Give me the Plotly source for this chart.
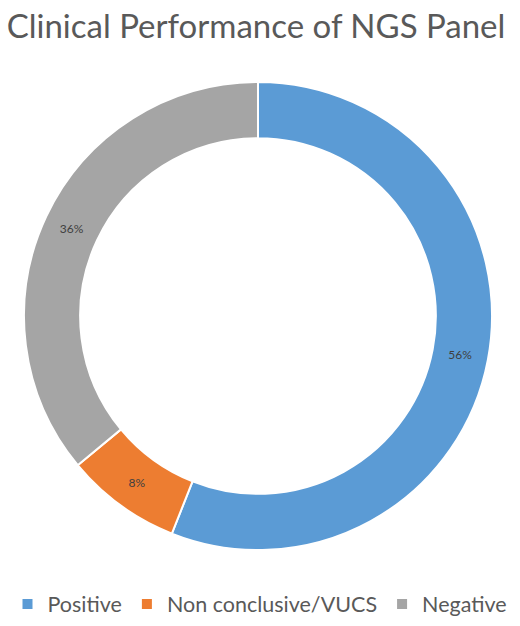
import plotly.graph_objects as go

categories = ["Positive", "Non conclusive/VUCS", "Negative"]
values = [56, 8, 36]
colors = ["#5B9BD5", "#ED7D31", "#A5A5A5"]

W, H = 520, 626

fig = go.Figure(go.Pie(
    labels=categories,
    values=values,
    hole=0.76,
    sort=False,
    direction="clockwise",
    rotation=0,
    domain=dict(x=[24 / W, 492 / W], y=[76 / H, 544 / H]),
    marker=dict(colors=colors, line=dict(color="white", width=2)),
    textinfo="percent",
    texttemplate="%{percent:.0%}",
    textposition="inside",
    insidetextorientation="horizontal",
    textfont=dict(family="Lato, Open Sans, sans-serif", size=12, color="#404040"),
    hoverinfo="label+percent",
))

fig.update_layout(
    width=W, height=H,
    paper_bgcolor="white",
    plot_bgcolor="white",
    margin=dict(l=0, r=0, t=0, b=0, autoexpand=False),
    title=dict(text="Clinical Performance of NGS Panel",
               x=256 / W, xanchor="center", xref="container",
               y=1 - 26 / H, yanchor="middle", yref="container",
               font=dict(family="Lato, Open Sans, sans-serif", size=33, color="#595959")),
    legend=dict(orientation="h", xref="paper", yref="container",
                x=0.5, xanchor="center", y=1 - 604 / H, yanchor="middle",
                font=dict(family="Lato, Open Sans, sans-serif", size=21.5, color="#595959"),
                itemwidth=30, traceorder="normal"),
    uniformtext=dict(minsize=8, mode="show"),
)

fig.write_html("out.html", post_script="document.body.style.margin='0';",
               config={"displayModeBar": False})
